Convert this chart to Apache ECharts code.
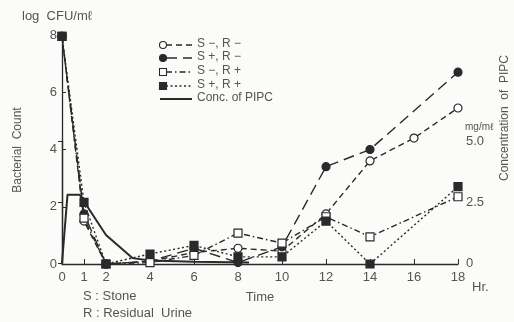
<!DOCTYPE html>
<html><head><meta charset="utf-8">
<script src="https://cdn.jsdelivr.net/npm/echarts@6/dist/echarts.min.js"></script>
<style>html,body{margin:0;padding:0;background:#fbfbfa;}#c{width:514px;height:322px;}</style>
</head><body><div id="c"></div>
<script>
// ---- data ----
var times = [0, 1, 2, 4, 6, 8, 10, 12, 14, 16, 18];
var sMinusRMinus = [7.95, 1.5, 0, 0.1, 0.4, 0.55, 0.45, 1.75, 3.6, 4.4, 5.45];
var sPlusRMinus  = [7.95, 1.75, 0, 0.1, 0.55, 0.05, 0.6, 3.4, 4.0, null, 6.7];
var sMinusRPlus  = [7.95, 1.6, 0, 0.05, 0.3, 1.08, 0.73, 1.65, 0.95, null, 2.35];
var sPlusRPlus   = [7.95, 2.15, 0, 0.35, 0.65, 0.25, 0.25, 1.5, 0, null, 2.7];
var pipcTimes = [0, 0.25, 0.8, 2, 3.2, 4, 6, 8.5];
var pipcConc  = [0, 2.8, 2.8, 1.15, 0.2, 0.1, 0.05, 0.02];
var xTicks = [0, 1, 2, 4, 6, 8, 10, 12, 14, 16, 18];
var yTicks = [0, 2, 4, 6, 8];
var rTicks = [0, 2.5, 5];
var legendNames = ['S \u2212, R \u2212', 'S +, R \u2212', 'S \u2212, R +', 'S +, R +', 'Conc. of PIPC'];

function pairs(xs, ys) {
  var out = [];
  for (var i = 0; i < xs.length; i++) if (ys[i] !== null) out.push([xs[i], ys[i]]);
  return out;
}

var ink = '#2a2a2a', txt = '#555';
var font = 'Liberation Sans, Arial, sans-serif';
var chart = echarts.init(document.getElementById('c'));

var styles = [
  {sym: 'circle', fill: '#fff', dash: [6, 4], size: 8},
  {sym: 'circle', fill: ink, dash: [11, 6], size: 8},
  {sym: 'rect', fill: '#fff', dash: [6, 3, 1.5, 3], size: 8},
  {sym: 'rect', fill: ink, dash: [2, 2.5], size: 8}
];
var seriesData = [sMinusRMinus, sPlusRMinus, sMinusRPlus, sPlusRPlus];

var series = seriesData.map(function (d, i) {
  return {
    name: legendNames[i], type: 'line', xAxisIndex: 0, yAxisIndex: 0,
    data: pairs(times, d), symbol: styles[i].sym, symbolSize: styles[i].size,
    showSymbol: true, animation: false, z: 3,
    lineStyle: {color: ink, width: 1.4, type: styles[i].dash},
    itemStyle: {color: styles[i].fill, borderColor: ink, borderWidth: 1.2}
  };
});
series.push({
  name: legendNames[4], type: 'line', xAxisIndex: 1, yAxisIndex: 1,
  data: pairs(pipcTimes, pipcConc), symbol: 'none', animation: false, z: 2,
  lineStyle: {color: ink, width: 2}
});

// legend graphics
var lg = [];
var rowY = [45, 58, 72, 86, 99];
for (var i = 0; i < 5; i++) {
  var y = rowY[i];
  if (i < 4) {
    lg.push({type: 'line', shape: {x1: 166, y1: y, x2: 192, y2: y},
      style: {stroke: ink, lineWidth: 1.4, lineDash: styles[i].dash}});
    if (styles[i].sym === 'circle') {
      lg.push({type: 'circle', shape: {cx: 163, cy: y, r: 3.5},
        style: {fill: styles[i].fill, stroke: ink, lineWidth: 1.1}});
    } else {
      lg.push({type: 'rect', shape: {x: 159.5, y: y - 3.5, width: 7, height: 7},
        style: {fill: styles[i].fill, stroke: ink, lineWidth: 1.1}});
    }
  } else {
    lg.push({type: 'line', shape: {x1: 160, y1: y, x2: 192, y2: y},
      style: {stroke: ink, lineWidth: 2}});
  }
  lg.push({type: 'text', left: 197, top: y - 7,
    style: {text: legendNames[i], fill: txt, font: '12px ' + font}});
}

var graphics = lg.concat([
  {type: 'text', left: 22, top: 10, style: {text: 'log  CFU/m\u2113', fill: txt, font: '13px ' + font}},
  {type: 'text', x: 18, y: 150, rotation: Math.PI / 2, style: {text: 'Bacterial  Count', fill: txt, font: '12px ' + font, align: 'center', verticalAlign: 'middle'}},
  {type: 'text', left: 465, top: 122, style: {text: 'mg/m\u2113', fill: txt, font: '10px ' + font}},
  {type: 'text', x: 505, y: 118, rotation: Math.PI / 2, style: {text: 'Concentration  of  PIPC', fill: txt, font: '12px ' + font, align: 'center', verticalAlign: 'middle'}},
  {type: 'text', left: 472, top: 281, style: {text: 'Hr.', fill: txt, font: '13px ' + font}},
  {type: 'text', left: 83, top: 290, style: {text: 'S : Stone', fill: txt, font: '13px ' + font}},
  {type: 'text', left: 83, top: 307, style: {text: 'R : Residual  Urine', fill: txt, font: '13px ' + font}}
]);

var option = {
  backgroundColor: '#fbfbfa',
  animation: false,
  textStyle: {fontFamily: font},
  grid: [
    {left: 62, right: 56, top: 35, bottom: 58},
    {left: 62, right: 56, top: 141, bottom: 59}
  ],
  xAxis: [
    {gridIndex: 0, type: 'value', min: 0, max: 18, name: 'Time', nameLocation: 'middle', nameGap: 27,
      nameTextStyle: {color: txt, fontSize: 13},
      axisLine: {show: true, lineStyle: {color: ink, width: 1.3}},
      axisTick: {show: true, inside: true, length: 5, customValues: xTicks, lineStyle: {color: ink}},
      axisLabel: {customValues: xTicks, color: txt, fontSize: 13, margin: 7},
      splitLine: {show: false}},
    {gridIndex: 1, type: 'value', min: 0, max: 18, show: false}
  ],
  yAxis: [
    {gridIndex: 0, type: 'value', min: 0, max: 8, interval: 2,
      axisLine: {show: true, lineStyle: {color: ink, width: 1.3}},
      axisTick: {show: true, inside: true, length: 4, lineStyle: {color: ink}},
      axisLabel: {color: txt, fontSize: 13, margin: 5},
      splitLine: {show: false}},
    {gridIndex: 1, type: 'value', min: 0, max: 5, interval: 2.5, position: 'right',
      axisLine: {show: true, lineStyle: {color: ink, width: 1.3}},
      axisTick: {show: true, inside: true, length: 4, lineStyle: {color: ink}},
      axisLabel: {color: txt, fontSize: 13, margin: 8,
        formatter: function (v) { return v === 0 ? '0' : v.toFixed(1); }},
      splitLine: {show: false}}
  ],
  series: series,
  graphic: graphics
};
chart.setOption(option);
</script></body></html>
